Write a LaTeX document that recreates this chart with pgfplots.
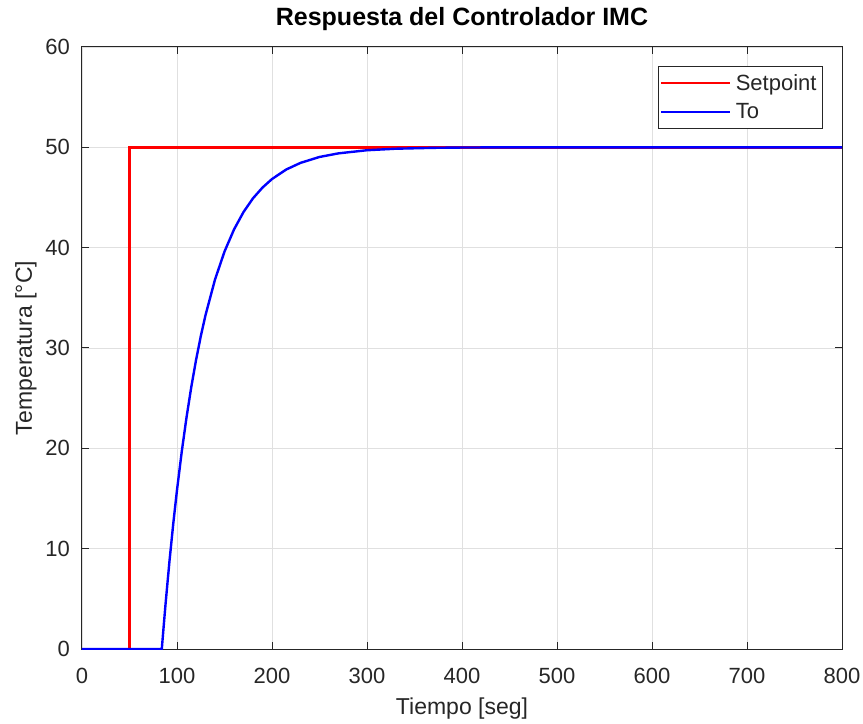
\documentclass[border=0pt]{standalone}
\usepackage{fontspec}
\setmainfont{Liberation Sans}
\usepackage{pgfplots}
\pgfplotsset{compat=1.18}
\definecolor{axgray}{RGB}{38,38,38}
\definecolor{gridgray}{RGB}{224,224,224}
\definecolor{mred}{RGB}{255,0,0}
\definecolor{mblue}{RGB}{0,0,255}
\begin{document}
\begin{tikzpicture}
\begin{axis}[
  name=ax,
  scale only axis,
  width=760pt, height=602pt,
  xmin=0, xmax=800, ymin=0, ymax=60,
  xtick={0,100,...,800}, ytick={0,10,...,60},
  tick align=inside,
  major tick length=7pt,
  grid=major,
  major grid style={gridgray, line width=0.9pt},
  axis line style={axgray, line width=1pt},
  every tick/.style={axgray, line width=1pt},
  tick label style={font=\fontsize{22}{26}\selectfont, text=axgray},
  xticklabel style={anchor=base, yshift=-34pt},
  yticklabel style={anchor=east, inner sep=0pt, xshift=-12pt},
  /pgf/number format/assume math mode=true,
  xlabel={Tiempo [seg]},
  ylabel={Temperatura [°C]},
  label style={font=\fontsize{23}{27}\selectfont, text=axgray},
  xlabel style={at={(axis description cs:0.5,-0.108)}, anchor=base},
  ylabel style={at={(axis description cs:-0.0658,0.5)}, anchor=base},
  title={Respuesta del Controlador IMC},
  title style={font=\bfseries\fontsize{25}{29}\selectfont,
    at={(axis description cs:0.5,1.025)}, anchor=base},
  legend style={at={(axis description cs:0.975,0.969)}, anchor=north east,
    draw=axgray, line width=1pt,
    font=\fontsize{22}{26}\selectfont, text=axgray,
    row sep=10pt, inner xsep=2pt, inner ysep=7pt,
    nodes={inner xsep=4pt, inner ysep=1pt}},
  legend cell align=left,
  legend image code/.code={\draw[#1, line width=2.6pt] (0pt,0pt) -- (69pt,0pt);},
]
% setpoint step at t = 50 s
\addplot[mred, line width=2.4pt] coordinates {
  (0,0) (50,0) (50,50) (800,50)
};
\addlegendentry{Setpoint}
% controlled temperature To
\addplot[mblue, line width=2.4pt] coordinates {
  (0,0) (84,0) (86,2.3) (88,4.54) (92,8.68) (96,12.43) (100,15.84)
  (105,19.67) (110,23.07) (115,26.09) (120,28.78) (125,31.16)
  (130,33.27) (140,36.82) (150,39.61) (160,41.81) (170,43.55)
  (180,44.92) (190,45.99) (200,46.84) (215,47.79) (230,48.45)
  (250,49.04) (270,49.40) (300,49.71) (330,49.86) (370,49.95)
  (400,49.98) (450,50) (800,50)
};
\addlegendentry{To}
\end{axis}
\pgfresetboundingbox
\path ([shift={(-82pt,-75pt)}]ax.south west) rectangle ([shift={(21pt,47pt)}]ax.north east);
\end{tikzpicture}
\end{document}
